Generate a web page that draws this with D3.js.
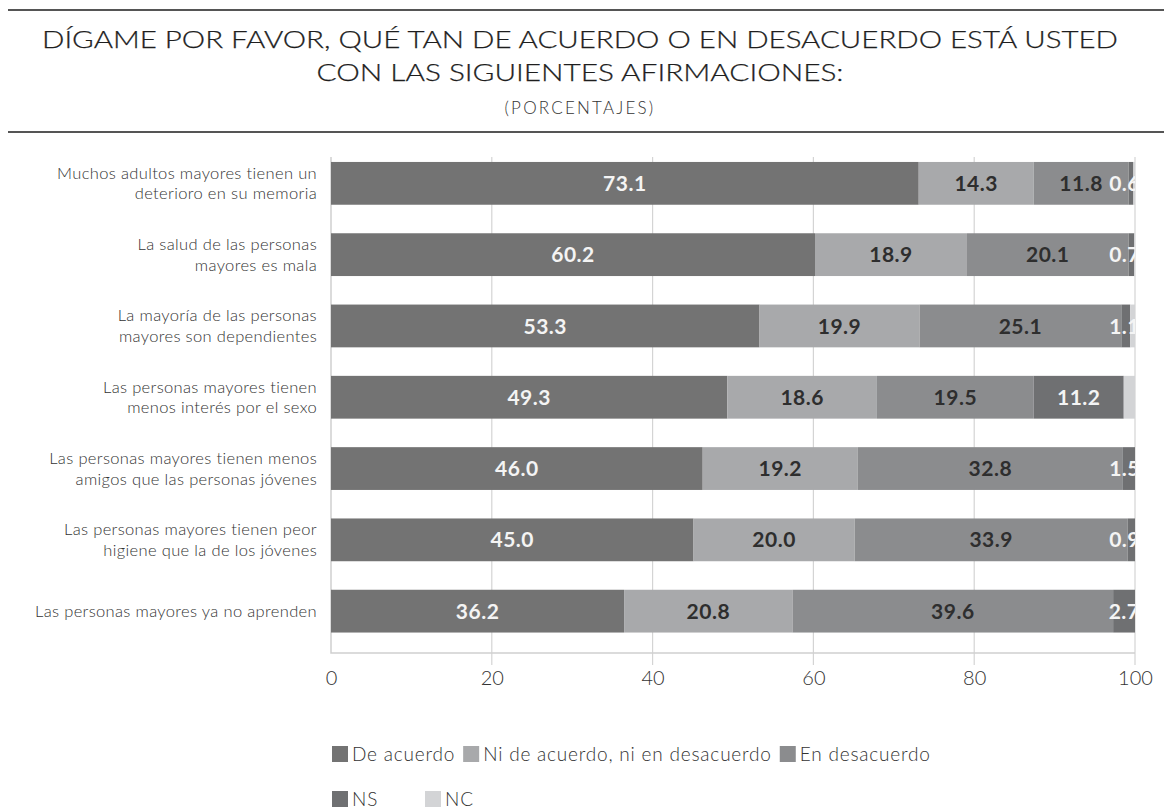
<!DOCTYPE html>
<html>
<head>
<meta charset="utf-8">
<script src="https://cdn.jsdelivr.net/npm/d3@7"></script>
<style>
  html, body { margin: 0; padding: 0; background: #fff; }
  svg { display: block; font-family: Lato, "Open Sans", sans-serif; }
</style>
</head>
<body>
<div id="app"></div>
<script>
const titleLines = [
    'DÍGAME POR FAVOR, QUÉ TAN DE ACUERDO O EN DESACUERDO ESTÁ USTED',
    'CON LAS SIGUIENTES AFIRMACIONES:',
]
const subtitle = '(PORCENTAJES)'

const statements = [
    ['Muchos adultos mayores tienen un', 'deterioro en su memoria'],
    ['La salud de las personas', 'mayores es mala'],
    ['La mayoría de las personas', 'mayores son dependientes'],
    ['Las personas mayores tienen', 'menos interés por el sexo'],
    ['Las personas mayores tienen menos', 'amigos que las personas jóvenes'],
    ['Las personas mayores tienen peor', 'higiene que la de los jóvenes'],
    ['Las personas mayores ya no aprenden'],
]

const series = ['De acuerdo', 'Ni de acuerdo, ni en desacuerdo', 'En desacuerdo', 'NS', 'NC']

const deAcuerdo = [73.1, 60.2, 53.3, 49.3, 46.0, 45.0, 36.2]
const niNi = [14.3, 18.9, 19.9, 18.6, 19.2, 20.0, 20.8]
const enDesacuerdo = [11.8, 20.1, 25.1, 19.5, 32.8, 33.9, 39.6]
const ns = [0.6, 0.7, 1.1, 11.2, 1.5, 0.9, 2.7]
const nc = [0.2, 0.1, 0.6, 1.4, 0, 0, 0]

const xTicks = [0, 20, 40, 60, 80, 100]

const colors = ['#737373', '#a8a9ab', '#8b8c8e', '#6f7072', '#d3d4d6']
const labelColors = ['#f4f4f4', '#2e2e2e', '#2e2e2e', '#f4f4f4', null]

const width = 1164, height = 810

const rows = statements.map((s, i) => ({
    key: i,
    [series[0]]: deAcuerdo[i],
    [series[1]]: niNi[i],
    [series[2]]: enDesacuerdo[i],
    [series[3]]: ns[i],
    [series[4]]: nc[i],
}))

// 100% stacked, like the original spreadsheet chart
const stacked = d3.stack().keys(series).offset(d3.stackOffsetExpand)(rows)

const x = d3.scaleLinear().domain([0, 100]).range([331, 1135])
const y = d3.scaleBand()
    .domain(rows.map(d => d.key))
    .range([147.7, 646.8])
    .paddingInner(0.4)
    .paddingOuter(0.2)

const plotTop = 157, plotBottom = 653

const svg = d3.select('#app').append('svg')
    .attr('width', width)
    .attr('height', height)

// header rules + title
for (const ry of [10, 132]) {
    svg.append('rect')
        .attr('x', 8).attr('y', ry - 1)
        .attr('width', width - 8).attr('height', 2)
        .attr('fill', '#555')
}

const titleWidths = [1076, 527]
svg.selectAll('text.title')
    .data(titleLines)
    .join('text')
    .attr('class', 'title')
    .attr('x', 580)
    .attr('y', (d, i) => 48 + i * 33)
    .attr('text-anchor', 'middle')
    .attr('font-size', 24)
    .attr('font-weight', 300)
    .attr('fill', '#1e1e1e')
    .attr('stroke', '#1e1e1e')
    .attr('stroke-width', 0.25)
    .attr('textLength', (d, i) => titleWidths[i])
    .attr('lengthAdjust', 'spacingAndGlyphs')
    .text(d => d)

svg.append('text')
    .attr('x', 580)
    .attr('y', 114)
    .attr('text-anchor', 'middle')
    .attr('font-size', 17)
    .attr('font-weight', 300)
    .attr('letter-spacing', 2.2)
    .attr('fill', '#333')
    .text(subtitle)

// grid
svg.selectAll('line.grid')
    .data(xTicks.slice(1))
    .join('line')
    .attr('class', 'grid')
    .attr('x1', d => x(d)).attr('x2', d => x(d))
    .attr('y1', plotTop).attr('y2', plotBottom + 12)
    .attr('stroke', '#d4d4d4').attr('stroke-width', 1.2)

// frame (left + bottom)
svg.append('path')
    .attr('d', `M${x(0)},${plotTop}V${plotBottom}H${x(100)}`)
    .attr('fill', 'none')
    .attr('stroke', '#cfcfcf')
    .attr('stroke-width', 1.5)

// x axis labels
const xAxis = svg.append('g')
    .attr('transform', `translate(0,${plotBottom + 18})`)
    .call(d3.axisBottom(x).tickValues(xTicks).tickSize(0).tickPadding(0).tickFormat(d3.format('d')))
xAxis.select('.domain').remove()
xAxis.selectAll('text')
    .attr('font-family', 'Lato, sans-serif')
    .attr('font-size', 20)
    .attr('font-weight', 300)
    .attr('fill', '#333')

// bars
const clipId = 'plot-clip'
svg.append('clipPath').attr('id', clipId)
    .append('rect')
    .attr('x', x(0)).attr('y', plotTop)
    .attr('width', x(100) - x(0)).attr('height', plotBottom - plotTop)

const layer = svg.append('g')
    .selectAll('g')
    .data(stacked)
    .join('g')
    .attr('fill', (d, i) => colors[i])

layer.selectAll('rect')
    .data(d => d)
    .join('rect')
    .attr('x', d => x(d[0] * 100))
    .attr('y', d => y(d.data.key))
    .attr('width', d => x(d[1] * 100) - x(d[0] * 100))
    .attr('height', y.bandwidth())

// value labels (centred, but pushed left when they would run past 100)
const valueLabels = svg.append('g').attr('clip-path', `url(#${clipId})`)
stacked.forEach((s, si) => {
    if (!labelColors[si]) return
    valueLabels.append('g')
        .selectAll('text')
        .data(s)
        .join('text')
        .attr('y', d => y(d.data.key) + y.bandwidth() / 2)
        .attr('dy', '0.36em')
        .attr('text-anchor', 'middle')
        .attr('font-size', 21)
        .attr('font-weight', 'bold')
        .attr('letter-spacing', 0.5)
        .attr('fill', labelColors[si])
        .text(d => d3.format('.1f')(d.data[s.key]))
        .attr('x', function (d) {
            const cx = x((d[0] + d[1]) / 2 * 100)
            const half = this.getComputedTextLength() / 2
            return Math.min(cx, x(100) + 5 - half)
        })
})

// category labels
svg.append('g')
    .selectAll('text')
    .data(statements)
    .join('text')
    .attr('x', 317)
    .attr('y', (d, i) => y(i) + y.bandwidth() / 2)
    .attr('text-anchor', 'end')
    .attr('font-size', 16.5)
    .attr('font-weight', 300)
    .attr('letter-spacing', 0.35)
    .attr('fill', '#333')
    .selectAll('tspan')
    .data(d => d)
    .join('tspan')
    .attr('x', 317)
    .attr('dy', (d, i, D) => i === 0 ? `${0.35 - (D.length - 1) * 0.62}em` : '1.24em')
    .text(d => d)

// legend
const legendRows = [series.slice(0, 3), series.slice(3)]
legendRows.forEach((items, r) => {
    let cx = 332
    const g = svg.append('g').attr('transform', `translate(0,${754 + r * 45})`)
    items.forEach(name => {
        const i = series.indexOf(name)
        g.append('rect')
            .attr('x', cx).attr('y', -8)
            .attr('width', 16).attr('height', 16)
            .attr('fill', colors[i])
        const t = g.append('text')
            .attr('x', cx + 20)
            .attr('dy', '0.36em')
            .attr('font-size', 19)
            .attr('font-weight', 300)
            .attr('letter-spacing', 0.8)
            .attr('fill', '#333')
            .text(name)
        const w = t.node().getComputedTextLength()
        cx += Math.max(20 + w + 8, r === 1 ? 93 : 0)
    })
})
</script>
</body>
</html>
